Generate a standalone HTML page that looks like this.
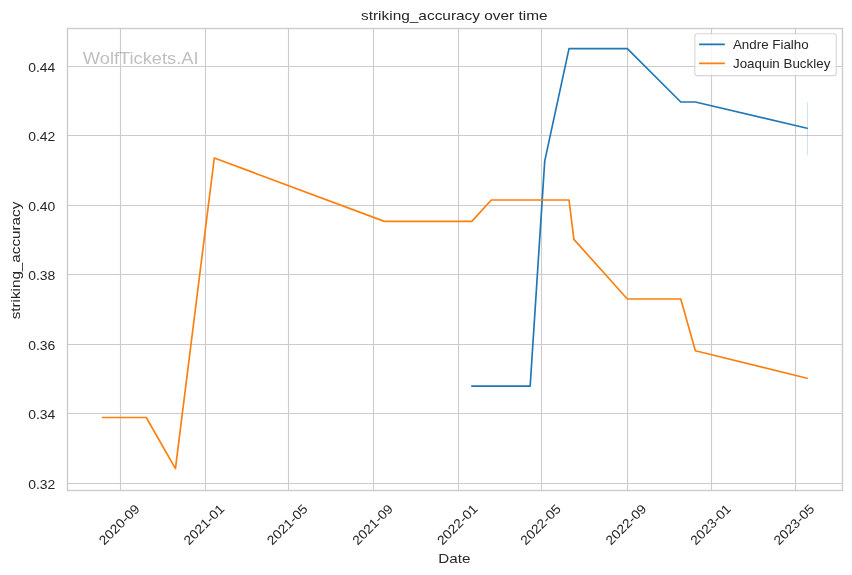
<!DOCTYPE html>
<html><head><meta charset="utf-8"><title>striking_accuracy over time</title>
<style>html,body{margin:0;padding:0;background:#fff;overflow:hidden;}svg{display:block;will-change:transform;}text{font-family:"Liberation Sans", sans-serif;}</style></head><body>
<svg width="852" height="575" viewBox="0 0 852 575">
<rect x="0" y="0" width="852" height="575" fill="#ffffff"/>
<g stroke="#cccccc" stroke-width="1.11" fill="none">
<line x1="120.5" y1="28.5" x2="120.5" y2="490.5"/>
<line x1="205.5" y1="28.5" x2="205.5" y2="490.5"/>
<line x1="288.5" y1="28.5" x2="288.5" y2="490.5"/>
<line x1="373.5" y1="28.5" x2="373.5" y2="490.5"/>
<line x1="458.5" y1="28.5" x2="458.5" y2="490.5"/>
<line x1="541.5" y1="28.5" x2="541.5" y2="490.5"/>
<line x1="627.5" y1="28.5" x2="627.5" y2="490.5"/>
<line x1="711.5" y1="28.5" x2="711.5" y2="490.5"/>
<line x1="795.5" y1="28.5" x2="795.5" y2="490.5"/>
<line x1="67.5" y1="66.5" x2="842.5" y2="66.5"/>
<line x1="67.5" y1="135.5" x2="842.5" y2="135.5"/>
<line x1="67.5" y1="205.5" x2="842.5" y2="205.5"/>
<line x1="67.5" y1="274.5" x2="842.5" y2="274.5"/>
<line x1="67.5" y1="344.5" x2="842.5" y2="344.5"/>
<line x1="67.5" y1="413.5" x2="842.5" y2="413.5"/>
<line x1="67.5" y1="483.5" x2="842.5" y2="483.5"/>
</g>
<line x1="807.50" y1="102.33" x2="807.50" y2="155.33" stroke="#1f77b4" stroke-opacity="0.2" stroke-width="1.11"/>
<polyline points="471.84,386.18 530.15,386.18 544.72,161.10 569.02,48.57 627.33,48.57 680.77,102.02 695.35,102.02 807.11,128.29" fill="none" stroke="#1f77b4" stroke-width="1.667" stroke-linecap="round" stroke-linejoin="round"/>
<polyline points="102.56,417.52 146.29,417.52 175.44,468.57 214.32,157.97 384.38,221.39 471.84,221.39 491.28,199.98 569.02,199.98 573.88,239.32 627.33,299.02 680.77,299.02 695.35,350.70 807.11,378.22" fill="none" stroke="#ff7f0e" stroke-width="1.667" stroke-linecap="round" stroke-linejoin="round"/>
<rect x="67.5" y="28.5" width="775" height="462" fill="none" stroke="#cccccc" stroke-width="1.39"/>
<text x="82.83" y="63.67" font-size="16.33" fill="#808080" fill-opacity="0.5" textLength="115.75" lengthAdjust="spacingAndGlyphs">WolfTickets.AI</text>
<text x="361.02" y="20.24" font-size="13.07" fill="#262626" textLength="186.62" lengthAdjust="spacingAndGlyphs">striking_accuracy over time</text>
<text x="438.27" y="562.50" font-size="13.07" fill="#262626" textLength="32.12" lengthAdjust="spacingAndGlyphs">Date</text>
<text transform="translate(16.50,260.57) rotate(-90)" x="0" y="3.5" text-anchor="middle" font-size="13.60" fill="#262626" textLength="117.62" lengthAdjust="spacingAndGlyphs">striking_accuracy</text>
<text x="55.31" y="488.96" text-anchor="end" font-size="12.22" fill="#262626" textLength="27.12" lengthAdjust="spacingAndGlyphs">0.32</text>
<text x="55.31" y="419.46" text-anchor="end" font-size="12.22" fill="#262626" textLength="27.12" lengthAdjust="spacingAndGlyphs">0.34</text>
<text x="55.31" y="349.96" text-anchor="end" font-size="12.22" fill="#262626" textLength="27.12" lengthAdjust="spacingAndGlyphs">0.36</text>
<text x="55.31" y="280.45" text-anchor="end" font-size="12.22" fill="#262626" textLength="27.12" lengthAdjust="spacingAndGlyphs">0.38</text>
<text x="55.31" y="210.95" text-anchor="end" font-size="12.22" fill="#262626" textLength="27.12" lengthAdjust="spacingAndGlyphs">0.40</text>
<text x="55.31" y="141.45" text-anchor="end" font-size="12.22" fill="#262626" textLength="27.12" lengthAdjust="spacingAndGlyphs">0.42</text>
<text x="55.31" y="71.95" text-anchor="end" font-size="12.22" fill="#262626" textLength="27.12" lengthAdjust="spacingAndGlyphs">0.44</text>
<text transform="translate(119.91,525.23) rotate(-45)" x="0" y="3.5" text-anchor="middle" font-size="12.96" fill="#262626" textLength="50.99" lengthAdjust="spacingAndGlyphs">2020-09</text>
<text transform="translate(204.60,525.23) rotate(-45)" x="0" y="3.5" text-anchor="middle" font-size="12.96" fill="#262626" textLength="51.01" lengthAdjust="spacingAndGlyphs">2021-01</text>
<text transform="translate(287.89,525.27) rotate(-45)" x="0" y="3.5" text-anchor="middle" font-size="12.96" fill="#262626" textLength="51.13" lengthAdjust="spacingAndGlyphs">2021-05</text>
<text transform="translate(373.27,525.23) rotate(-45)" x="0" y="3.5" text-anchor="middle" font-size="12.96" fill="#262626" textLength="50.99" lengthAdjust="spacingAndGlyphs">2021-09</text>
<text transform="translate(457.95,525.23) rotate(-45)" x="0" y="3.5" text-anchor="middle" font-size="12.96" fill="#262626" textLength="50.99" lengthAdjust="spacingAndGlyphs">2022-01</text>
<text transform="translate(541.25,525.27) rotate(-45)" x="0" y="3.5" text-anchor="middle" font-size="12.96" fill="#262626" textLength="51.12" lengthAdjust="spacingAndGlyphs">2022-05</text>
<text transform="translate(626.63,525.23) rotate(-45)" x="0" y="3.5" text-anchor="middle" font-size="12.96" fill="#262626" textLength="51.01" lengthAdjust="spacingAndGlyphs">2022-09</text>
<text transform="translate(711.32,525.23) rotate(-45)" x="0" y="3.5" text-anchor="middle" font-size="12.96" fill="#262626" textLength="50.99" lengthAdjust="spacingAndGlyphs">2023-01</text>
<text transform="translate(794.61,525.27) rotate(-45)" x="0" y="3.5" text-anchor="middle" font-size="12.96" fill="#262626" textLength="51.12" lengthAdjust="spacingAndGlyphs">2023-05</text>
<rect x="694.85" y="33.68" width="141.38" height="41.89" rx="2.44" ry="2.44" fill="#ffffff" fill-opacity="0.8" stroke="#cccccc" stroke-opacity="0.8" stroke-width="1.11"/>
<line x1="699.74" y1="44.30" x2="724.18" y2="44.30" stroke="#1f77b4" stroke-width="1.667" stroke-linecap="round"/>
<line x1="699.74" y1="63.41" x2="724.18" y2="63.41" stroke="#ff7f0e" stroke-width="1.667" stroke-linecap="round"/>
<text x="732.96" y="48.57" font-size="12.83" fill="#262626" textLength="75.75" lengthAdjust="spacingAndGlyphs">Andre Fialho</text>
<text x="732.96" y="67.68" font-size="12.83" fill="#262626" textLength="97.38" lengthAdjust="spacingAndGlyphs">Joaquin Buckley</text>
</svg>
</body></html>
